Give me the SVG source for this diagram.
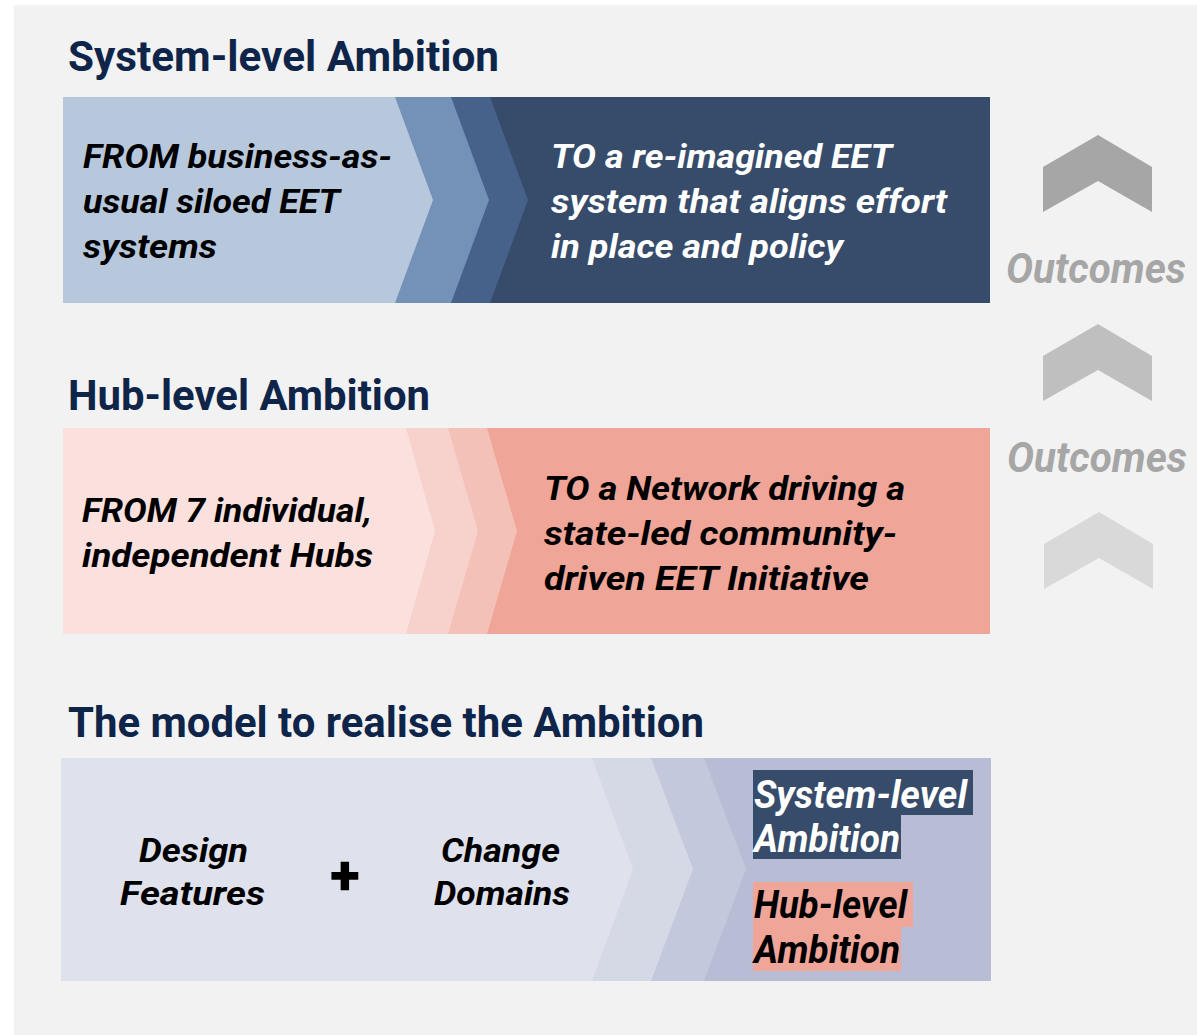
<svg xmlns="http://www.w3.org/2000/svg" width="1197" height="1035" viewBox="0 0 1197 1035">
<style>
.t{font-family:Roboto,"Liberation Sans",sans-serif;font-weight:700;}
.h{font-size:43px;fill:#0e2549;}
.b{font-size:34px;font-style:italic;}
.w{fill:#ffffff;}
.k{fill:#000000;}
.hl{font-size:38px;font-style:italic;}
.oc{font-size:43px;font-style:italic;fill:#a6a6a6;}
</style>
<rect x="0" y="0" width="1197" height="1035" fill="#ffffff"/>
<rect x="14" y="5" width="1183" height="1030" fill="#f2f2f2"/>

<g id="title-system">
<text class="t h" x="68" y="71" textLength="431" lengthAdjust="spacingAndGlyphs">System-level Ambition</text>
</g>

<g id="band-system">
<rect x="63" y="97" width="927" height="206" fill="#b8c8dc"/>
<polygon points="395,97 990,97 990,303 395,303 433,200" fill="#7491b8"/>
<polygon points="451,97 990,97 990,303 451,303 489,200" fill="#46618a"/>
<polygon points="490,97 990,97 990,303 490,303 528,200" fill="#364c6a"/>
<text class="t b k" x="83" y="168" textLength="309" lengthAdjust="spacingAndGlyphs">FROM business-as-</text>
<text class="t b k" x="83" y="213" textLength="257" lengthAdjust="spacingAndGlyphs">usual siloed EET</text>
<text class="t b k" x="83" y="258" textLength="134" lengthAdjust="spacingAndGlyphs">systems</text>
<text class="t b w" x="551" y="168" textLength="341" lengthAdjust="spacingAndGlyphs">TO a re-imagined EET</text>
<text class="t b w" x="551" y="213" textLength="396" lengthAdjust="spacingAndGlyphs">system that aligns effort</text>
<text class="t b w" x="551" y="258" textLength="292" lengthAdjust="spacingAndGlyphs">in place and policy</text>
</g>

<g id="title-hub">
<text class="t h" x="68" y="410" textLength="362" lengthAdjust="spacingAndGlyphs">Hub-level Ambition</text>
</g>

<g id="band-hub">
<rect x="63" y="428" width="927" height="206" fill="#fae1dd"/>
<polygon points="406,428 990,428 990,634 406,634 435,531" fill="#f7d1cb"/>
<polygon points="448,428 990,428 990,634 448,634 478,531" fill="#f4c1b8"/>
<polygon points="487,428 990,428 990,634 487,634 517,531" fill="#efa597"/>
<text class="t b k" x="82" y="522" textLength="290" lengthAdjust="spacingAndGlyphs">FROM 7 individual,</text>
<text class="t b k" x="82" y="567" textLength="291" lengthAdjust="spacingAndGlyphs">independent Hubs</text>
<text class="t b k" x="544" y="500" textLength="361" lengthAdjust="spacingAndGlyphs">TO a Network driving a</text>
<text class="t b k" x="544" y="545" textLength="353" lengthAdjust="spacingAndGlyphs">state-led community-</text>
<text class="t b k" x="544" y="590" textLength="325" lengthAdjust="spacingAndGlyphs">driven EET Initiative</text>
</g>

<g id="title-model">
<text class="t h" x="68" y="737" textLength="636" lengthAdjust="spacingAndGlyphs">The model to realise the Ambition</text>
</g>

<g id="band-model">
<rect x="61" y="758" width="930" height="223" fill="#dfe2ec"/>
<polygon points="592,758 991,758 991,981 592,981 633,869" fill="#d5d9e6"/>
<polygon points="651,758 991,758 991,981 651,981 693,869" fill="#c4c8dc"/>
<polygon points="704,758 991,758 991,981 704,981 746,869" fill="#b8bdd5"/>
<text class="t b k" x="139" y="862" textLength="109" lengthAdjust="spacingAndGlyphs">Design</text>
<text class="t b k" x="120" y="905" textLength="145" lengthAdjust="spacingAndGlyphs">Features</text>
<text class="t k" x="345" y="893" font-size="52" text-anchor="middle" stroke="#000000" stroke-width="1.5">+</text>
<text class="t b k" x="441" y="862" textLength="119" lengthAdjust="spacingAndGlyphs">Change</text>
<text class="t b k" x="434" y="905" textLength="136" lengthAdjust="spacingAndGlyphs">Domains</text>
<rect x="753" y="770" width="220" height="45" fill="#364c6a"/>
<rect x="753" y="815" width="148" height="44" fill="#364c6a"/>
<rect x="753" y="882" width="160" height="45" fill="#efa597"/>
<rect x="753" y="927" width="148" height="44" fill="#efa597"/>
<text class="t hl w" x="754" y="808" textLength="213" lengthAdjust="spacingAndGlyphs">System-level</text>
<text class="t hl w" x="754" y="852" textLength="146" lengthAdjust="spacingAndGlyphs">Ambition</text>
<text class="t hl k" x="754" y="918" textLength="153" lengthAdjust="spacingAndGlyphs">Hub-level</text>
<text class="t hl k" x="754" y="963" textLength="146" lengthAdjust="spacingAndGlyphs">Ambition</text>
</g>

<g id="outcomes">
<polygon points="1043,167 1098,135 1152,167 1152,212 1098,181 1043,212" fill="#a6a6a6"/>
<text class="t oc" x="1006" y="283" textLength="180" lengthAdjust="spacingAndGlyphs">Outcomes</text>
<polygon points="1043,356 1098,324 1152,356 1152,401 1098,370 1043,401" fill="#bfbfbf"/>
<text class="t oc" x="1007" y="472" textLength="180" lengthAdjust="spacingAndGlyphs">Outcomes</text>
<polygon points="1044,544 1099,512 1153,544 1153,589 1099,558 1044,589" fill="#d9d9d9"/>
</g>

<g id="connectors"></g>
</svg>
